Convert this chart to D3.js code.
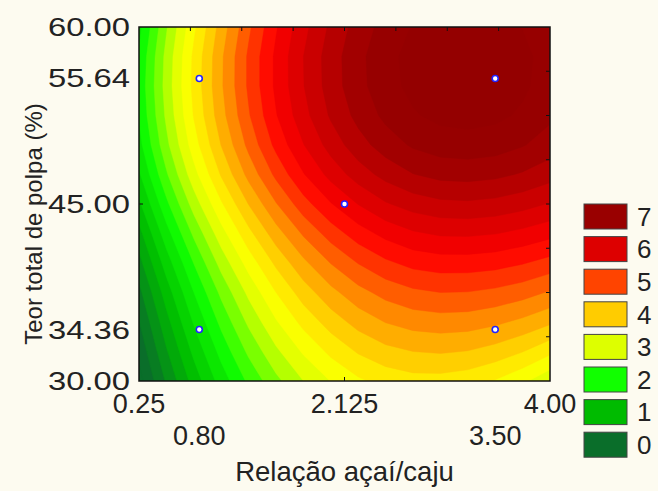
<!DOCTYPE html>
<html><head><meta charset="utf-8">
<script src="https://cdn.jsdelivr.net/npm/d3@7"></script>
<style>
html,body{margin:0;padding:0;background:#fdfbf0;}
svg{display:block;font-family:"Liberation Sans",Arial,sans-serif;}
</style>
</head><body>
<svg id="chart" width="658" height="491"></svg>
<script>
// ---- data ----
const xGrid = [0.25,0.5,0.75,1.0,1.25,1.5,1.75,2.0,2.25,2.5,2.75,3.0,3.25,3.5,3.75,4.0];
const yGrid = [30,32.5,35,37.5,40,42.5,45,47.5,50,52.5,55,57.5,60];
const z60   = [1.70,2.63,3.47,4.24,4.92,5.53,6.05,6.49,6.85,7.12,7.32,7.44,7.47,7.42,7.29,7.09];
const z57_5 = [1.83,2.75,3.59,4.35,5.03,5.62,6.14,6.58,6.93,7.21,7.40,7.52,7.55,7.50,7.38,7.17];
const z55   = [1.87,2.78,3.61,4.36,5.03,5.62,6.13,6.57,6.92,7.19,7.38,7.50,7.53,7.48,7.36,7.15];
const z52_5 = [1.82,2.72,3.55,4.29,4.95,5.54,6.04,6.47,6.81,7.08,7.27,7.38,7.41,7.37,7.25,7.07];
const z50   = [1.69,2.58,3.39,4.12,4.77,5.35,5.84,6.26,6.60,6.86,7.05,7.15,7.18,7.14,7.03,6.87];
const z47_5 = [1.46,2.33,3.13,3.85,4.49,5.05,5.54,5.95,6.28,6.53,6.71,6.81,6.83,6.79,6.69,6.55];
const z45   = [1.15,2.01,2.79,3.49,4.12,4.67,5.15,5.54,5.86,6.11,6.27,6.36,6.38,6.34,6.25,6.12];
const z42_5 = [0.82,1.67,2.43,3.12,3.73,4.27,4.73,5.11,5.42,5.65,5.81,5.89,5.90,5.86,5.77,5.65];
const z40   = [0.53,1.35,2.09,2.77,3.36,3.88,4.33,4.70,4.99,5.21,5.36,5.42,5.42,5.38,5.29,5.16];
const z37_5 = [0.26,1.06,1.79,2.44,3.02,3.53,3.96,4.31,4.59,4.79,4.92,4.98,4.97,4.91,4.81,4.66];
const z35   = [0.04,0.82,1.53,2.16,2.72,3.21,3.62,3.95,4.22,4.41,4.52,4.56,4.54,4.46,4.33,4.16];
const z32_5 = [-0.16,0.60,1.28,1.89,2.43,2.89,3.28,3.60,3.85,4.02,4.11,4.14,4.10,3.99,3.83,3.60];
const z30   = [-0.35,0.38,1.04,1.63,2.14,2.58,2.95,3.25,3.48,3.63,3.71,3.71,3.65,3.51,3.30,3.02];
const zRows = [z30,z32_5,z35,z37_5,z40,z42_5,z45,z47_5,z50,z52_5,z55,z57_5,z60]; // bottom -> top

const pointsX = [0.80, 0.80, 2.125, 3.50, 3.50];
const pointsY = [34.36, 55.64, 45.00, 34.36, 55.64];

const xTicksRow1 = [0.25, 2.125, 4.00];
const xTicksRow1Labels = ["0.25", "2.125", "4.00"];
const xTicksRow2 = [0.80, 3.50];
const xTicksRow2Labels = ["0.80", "3.50"];
const yTicks = [60, 55.64, 45, 34.36, 30];
const yTickLabels = ["60.00", "55.64", "45.00", "34.36", "30.00"];

const legendLevels = [7, 6, 5, 4, 3, 2, 1, 0];
const legendColors = ["#990000", "#dd0000", "#ff4400", "#ffcc00", "#ddff00", "#11ff00", "#00bb00", "#0a6e2a"];

const xTitle = "Relação açaí/caju";
const yTitle = "Teor total de polpa (%)";

// ---- drawing ----
const svg = d3.select("#chart");
const W = 658, H = 491;
const plot = {left: 139, right: 550, top: 27, bottom: 381};

svg.append("rect").attr("width", W).attr("height", H).attr("fill", "#fdfbf0");

const x = d3.scaleLinear().domain([xGrid[0], xGrid[xGrid.length-1]]).range([plot.left, plot.right]);
const y = d3.scaleLinear().domain([yGrid[0], yGrid[yGrid.length-1]]).range([plot.bottom, plot.top]);

const color = d3.scaleLinear()
  .domain([0, 1, 2, 3, 3.45, 4, 4.5, 5, 5.5, 6, 7, 7.5])
  .range(["#0a6e2a", "#00bb00", "#11ff00", "#ddff00", "#ffff00", "#ffcc00", "#ff9000", "#ff4400", "#ff0000", "#dd0000", "#990000", "#930000"])
  .clamp(true);

const nx = xGrid.length, ny = yGrid.length;
const values = [];
zRows.forEach(row => row.forEach(v => values.push(v)));
const stepX = xGrid[1] - xGrid[0], stepY = yGrid[1] - yGrid[0];
const levelStep = 0.29, topLevel = 7.3;
const thresholds = d3.range(30, -1, -1).map(k => +(topLevel - k * levelStep).toFixed(3));
const contours = d3.contours().size([nx, ny]).thresholds(thresholds)(values);

const proj = d3.geoTransform({
  point: function(gx, gy) {
    this.stream.point(x(xGrid[0] + (gx - 0.5) * stepX), y(yGrid[0] + (gy - 0.5) * stepY));
  }
});
const path = d3.geoPath(proj);

svg.append("clipPath").attr("id", "clip").append("rect")
  .attr("x", plot.left).attr("y", plot.top)
  .attr("width", plot.right - plot.left).attr("height", plot.bottom - plot.top);

svg.append("g").attr("clip-path", "url(#clip)")
  .selectAll("path").data(contours).join("path")
  .attr("d", path)
  .attr("fill", d => color(d.value + levelStep / 2))
  .attr("stroke", d => color(d.value + levelStep / 2))
  .attr("stroke-width", 0.4);

// frame
svg.append("rect")
  .attr("x", plot.left).attr("y", plot.top)
  .attr("width", plot.right - plot.left).attr("height", plot.bottom - plot.top)
  .attr("fill", "none").attr("stroke", "#111").attr("stroke-width", 1.5);

// minor ticks (top and right, 8 intervals)
const tickG = svg.append("g").attr("stroke", "#111").attr("stroke-width", 1);
const xd = x.domain(), yd = y.domain();
d3.range(1, 8).forEach(k => {
  const xv = xd[0] + k * (xd[1] - xd[0]) / 8;
  const yv = yd[0] + k * (yd[1] - yd[0]) / 8;
  tickG.append("line").attr("x1", x(xv)).attr("x2", x(xv)).attr("y1", plot.top).attr("y2", plot.top + 4);
  tickG.append("line").attr("y1", y(yv)).attr("y2", y(yv)).attr("x1", plot.right).attr("x2", plot.right - 4);
});
tickG.append("line").attr("x1", x(xTicksRow1[1])).attr("x2", x(xTicksRow1[1])).attr("y1", plot.bottom).attr("y2", plot.bottom - 4);
tickG.append("line").attr("y1", y(yTicks[2])).attr("y2", y(yTicks[2])).attr("x1", plot.left).attr("x2", plot.left + 4);

// design points
svg.append("g").selectAll("circle").data(pointsX).join("circle")
  .attr("cx", (d, i) => x(d)).attr("cy", (d, i) => y(pointsY[i]))
  .attr("r", 3).attr("fill", "#ffffff").attr("stroke", "#2222ff").attr("stroke-width", 1.6);

// y tick labels
svg.append("g").selectAll("text").data(yTicks).join("text")
  .attr("x", plot.left - 9).attr("y", d => y(d))
  .attr("dy", "0.36em").attr("text-anchor", "end")
  .attr("font-size", 25).attr("fill", "#222")
  .attr("textLength", 82).attr("lengthAdjust", "spacingAndGlyphs")
  .text((d, i) => yTickLabels[i]);

// x tick labels
svg.append("g").selectAll("text").data(xTicksRow1).join("text")
  .attr("x", d => x(d)).attr("y", 413)
  .attr("text-anchor", "middle").attr("font-size", 27).attr("fill", "#222")
  .text((d, i) => xTicksRow1Labels[i]);
svg.append("g").selectAll("text").data(xTicksRow2).join("text")
  .attr("x", d => x(d)).attr("y", 445)
  .attr("text-anchor", "middle").attr("font-size", 27).attr("fill", "#222")
  .text((d, i) => xTicksRow2Labels[i]);

// axis titles
svg.append("text").attr("x", (plot.left + plot.right) / 2).attr("y", 481)
  .attr("text-anchor", "middle").attr("font-size", 27.5).attr("fill", "#222").text(xTitle);
svg.append("text").attr("transform", `translate(42,${(plot.top + plot.bottom) / 2 + 20}) rotate(-90)`)
  .attr("text-anchor", "middle").attr("font-size", 24).attr("fill", "#222").text(yTitle);

// legend
const lg = svg.append("g");
legendLevels.forEach((lv, i) => {
  const yy = 204 + i * 32.6;
  lg.append("rect").attr("x", 584).attr("y", yy).attr("width", 43).attr("height", 25)
    .attr("fill", legendColors[i]).attr("stroke", "#444").attr("stroke-width", 1);
  lg.append("text").attr("x", 637).attr("y", yy + 12.5).attr("dy", "0.36em")
    .attr("font-size", 26).attr("fill", "#222").text(lv);
});
</script>
</body></html>
